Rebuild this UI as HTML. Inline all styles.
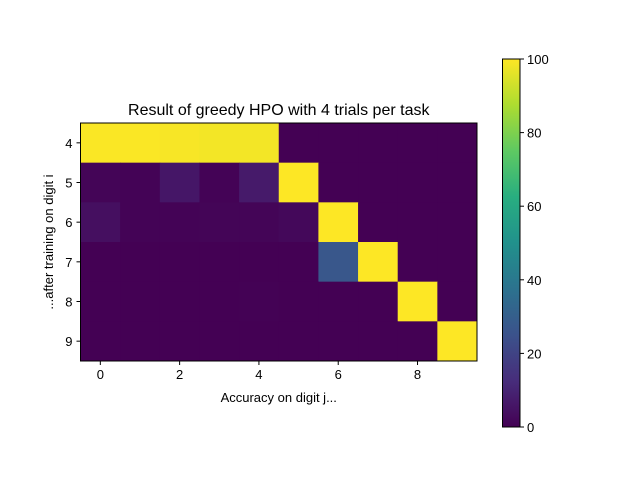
<!DOCTYPE html>
<html><head><meta charset="utf-8"><style>body{margin:0;background:#fff}svg{display:block;font-family:"Liberation Sans","DejaVu Sans",sans-serif}</style></head>
<body>
<svg id="c" width="640" height="480">
<defs><linearGradient id="vg" x1="0" y1="1" x2="0" y2="0">
<stop offset="0" stop-color="#440154"/><stop offset="0.125" stop-color="#472d7b"/><stop offset="0.25" stop-color="#3b528b"/><stop offset="0.375" stop-color="#2c728e"/><stop offset="0.5" stop-color="#21918c"/><stop offset="0.625" stop-color="#28ae80"/><stop offset="0.75" stop-color="#5ec962"/><stop offset="0.875" stop-color="#addc30"/><stop offset="1" stop-color="#fde725"/></linearGradient></defs>
</svg>
<script>
const rowLabels=[4,5,6,7,8,9];
const colLabels=[0,1,2,3,4,5,6,7,8,9];
const row4=[99.5,99.5,99,98.5,98.5,0,0,0,0,0];
const row5=[1,0.5,6,0.5,7,100,0,0,0,0];
const row6=[4,0.5,0.5,1,1,2,100,0,0,0];
const row7=[0,0,0,0,0,0,27,100,0,0];
const row8=[0,0,0,0,0.3,0,0,0,100,0];
const row9=[0,0,0,0,0,0,0,0,0,100];
const values=[row4,row5,row6,row7,row8,row9];
const xTicks=[0,2,4,6,8];
const cbTicks=[0,20,40,60,80,100];
const NS='http://www.w3.org/2000/svg';const svg=document.getElementById('c');
function mk(t,a,p){const e=document.createElementNS(NS,t);for(const k in a)e.setAttribute(k,a[k]);(p||svg).appendChild(e);return e;}
const L=80.5,R=477,T=123,B=361;const cw=(R-L)/colLabels.length,ch=(B-T)/rowLabels.length;
const x=j=>L+j*cw, y=i=>T+i*ch;
const vs=[[68,1,84],[71,45,123],[59,82,139],[44,114,142],[33,145,140],[40,174,128],[94,201,98],[173,220,48],[253,231,37]];
function vir(v){let t=Math.max(0,Math.min(1,v/100))*8;let i=Math.min(7,Math.floor(t)),f=t-i;const a=vs[i],b=vs[i+1];return 'rgb('+a.map((c,k)=>Math.round(c+(b[k]-c)*f)).join(',')+')';}
values.forEach((row,i)=>row.forEach((v,j)=>{const r=mk('rect',{x:x(j),y:y(i),width:cw+0.5,height:ch+0.5,fill:vir(v)});

}));
mk('rect',{x:L,y:T,width:R-L,height:B-T,fill:'none',stroke:'#000','stroke-width':1});
xTicks.forEach(t=>{const cx=x(t)+cw/2;mk('line',{x1:cx,x2:cx,y1:B,y2:B+4,stroke:'#000'});const tx=mk('text',{x:cx,y:B+18,'text-anchor':'middle','font-size':13});tx.textContent=t;

});
rowLabels.forEach((t,i)=>{const cy=y(i)+ch/2;mk('line',{x1:L,x2:L-4,y1:cy,y2:cy,stroke:'#000'});const tx=mk('text',{x:L-8,y:cy+5,'text-anchor':'end','font-size':13});tx.textContent=t;

});
let e=mk('text',{x:(L+R)/2,y:115,'text-anchor':'middle','font-size':16});e.textContent='Result of greedy HPO with 4 trials per task';


e=mk('text',{x:(L+R)/2,y:402,'text-anchor':'middle','font-size':13});e.textContent='Accuracy on digit j...';


e=mk('text',{x:0,y:0,'text-anchor':'middle','font-size':13,transform:'translate(53,'+((T+B)/2)+') rotate(-90)'});e.textContent='...after training on digit i';


const CL=502.5,CR=520,CT=59,CB=427;
e=mk('rect',{x:CL,y:CT,width:CR-CL,height:CB-CT,fill:'url(#vg)',stroke:'#000','stroke-width':1});


cbTicks.forEach(t=>{const cy=CB-(t/100)*(CB-CT);mk('line',{x1:CR,x2:CR+4,y1:cy,y2:cy,stroke:'#000'});const tx=mk('text',{x:CR+7,y:cy+5,'font-size':13});tx.textContent=t;

});
</script>
</body></html>
